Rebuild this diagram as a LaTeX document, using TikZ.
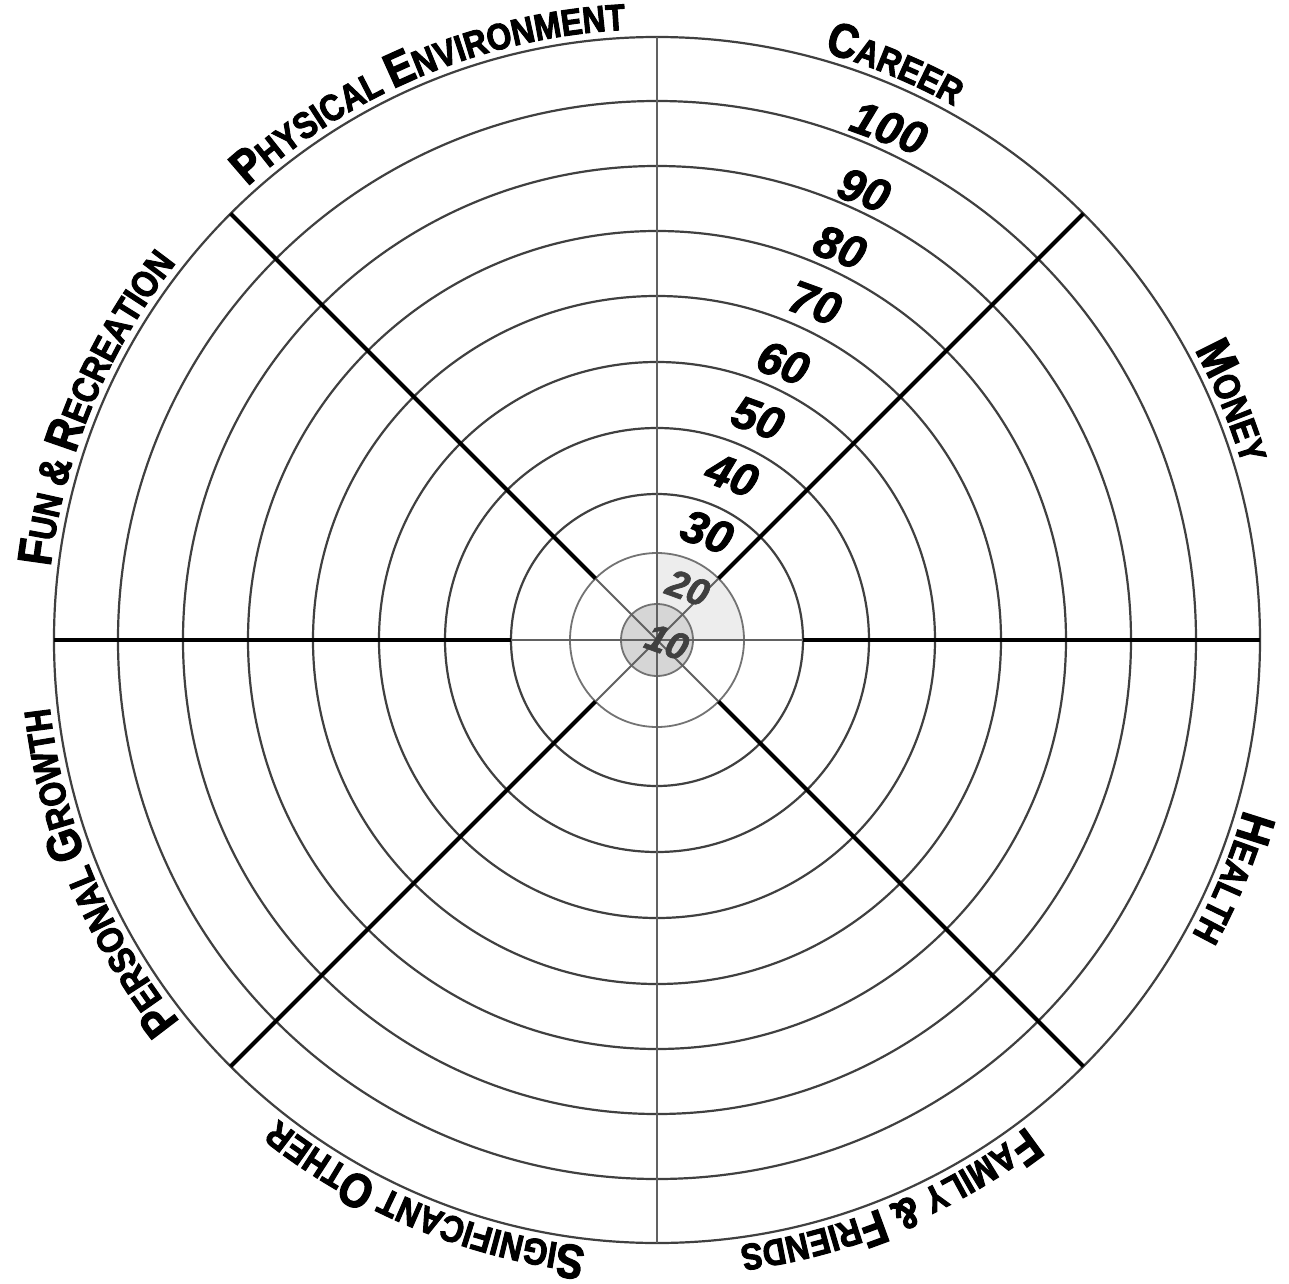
\documentclass[tikz,border=0pt]{standalone}
\usepackage{fontspec}
\usetikzlibrary{decorations.text}
\newfontfamily\lblfont[FakeStretch=0.86,FakeBold=2.6]{Liberation Sans Bold}
\newfontfamily\numfont[FakeBold=1.8]{Liberation Sans Bold Italic}
\newcommand\BL{\lblfont\fontsize{48}{48}\selectfont}
\newcommand\SL{\lblfont\fontsize{37}{37}\selectfont}
\newcommand\AL{\lblfont\fontsize{43}{43}\selectfont}
\newcommand\sectorlabel[2]{%
  \path[decorate,decoration={text along path,text align=center,text={#2}}]
    ({#1+25}:611) arc[start angle={#1+25},end angle={#1-25},radius=611];}
\tikzset{
  ring/.style={draw=black!75,line width=2.2},
  innerring/.style={draw=black!55,line width=1.8},
  spoke/.style={draw=black,line width=4},
  thinspoke/.style={draw=black!62,line width=2},
  numlbl/.style={font=\numfont\fontsize{46}{46}\selectfont,rotate=-20,inner sep=0},
  smallnum/.style={numlbl,text=black!75,font=\numfont\fontsize{38}{38}\selectfont},
}
\begin{document}
\begin{tikzpicture}[x=1pt,y=1pt]
\fill[white] (-657,-643) rectangle (632,640);
\useasboundingbox (-657,-643) rectangle (632,640);
\coordinate (O) at (0,0);
% light fills
\fill[black!7] (O) -- (0:87) arc[start angle=0,end angle=90,radius=87] -- cycle;
\fill[black!16] (O) circle[radius=36];
% rings
\foreach \r in {603,539,474,409,344,278,212,146}
  \draw[ring] (O) circle[radius=\r];
\foreach \r in {87,36}
  \draw[innerring] (O) circle[radius=\r];
% spokes
\coordinate (W) at (180:603);
\coordinate (E) at (0:603);
\coordinate (N) at (90:603);
\coordinate (S) at (270:603);
\coordinate (NE) at (45:603);
\coordinate (NW) at (135:603);
\coordinate (SW) at (225:603);
\coordinate (SE) at (315:603);
\coordinate (w3) at (180:146);
\coordinate (e3) at (0:146);
\coordinate (ne2) at (45:87);
\coordinate (nw2) at (135:87);
\coordinate (sw2) at (225:87);
\coordinate (se2) at (315:87);
\draw[thinspoke] (N) -- (S);
\draw[thinspoke] (w3) -- (e3);
\draw[thinspoke] (ne2) -- (sw2);
\draw[thinspoke] (nw2) -- (se2);
\draw[spoke] (W) -- (w3);
\draw[spoke] (E) -- (e3);
\draw[spoke] (NE) -- (ne2);
\draw[spoke] (NW) -- (nw2);
\draw[spoke] (SW) -- (sw2);
\draw[spoke] (SE) -- (se2);
% scale numbers
\node[numlbl] (n100) at (232,512) {100};
\node[numlbl] (n90) at (207,450) {90};
\node[numlbl] (n80) at (183,393) {80};
\node[numlbl] (n70) at (158,337) {70};
\node[numlbl] (n60) at (126,277) {60};
\node[numlbl] (n50) at (101,222) {50};
\node[numlbl] (n40) at (75,165) {40};
\node[numlbl] (n30) at (50,108) {30};
\node[smallnum] (n20) at (31,52) {20};
\node[smallnum] (n10) at (10,-2) {10};
% sector labels
\sectorlabel{67.5}{|\BL|C|\SL|AREER}
\sectorlabel{112.5}{|\BL|P|\SL|HYSICAL |\BL|E|\SL|NVIRONMENT}
\sectorlabel{157.5}{|\BL|F|\SL|UN |\AL|{\&}|\SL| |\BL|R|\SL|ECREATION}
\sectorlabel{202.5}{|\BL|P|\SL|ERSONAL |\BL|G|\SL|ROWTH}
\sectorlabel{247.5}{|\BL|S|\SL|IGNIFICANT |\BL|O|\SL|THER}
\sectorlabel{292.5}{|\BL|F|\SL|AMILY |\AL|{\&}|\SL| |\BL|F|\SL|RIENDS}
\sectorlabel{337.5}{|\BL|H|\SL|EALTH}
\sectorlabel{22.5}{|\BL|M|\SL|ONEY}
\end{tikzpicture}
\end{document}
